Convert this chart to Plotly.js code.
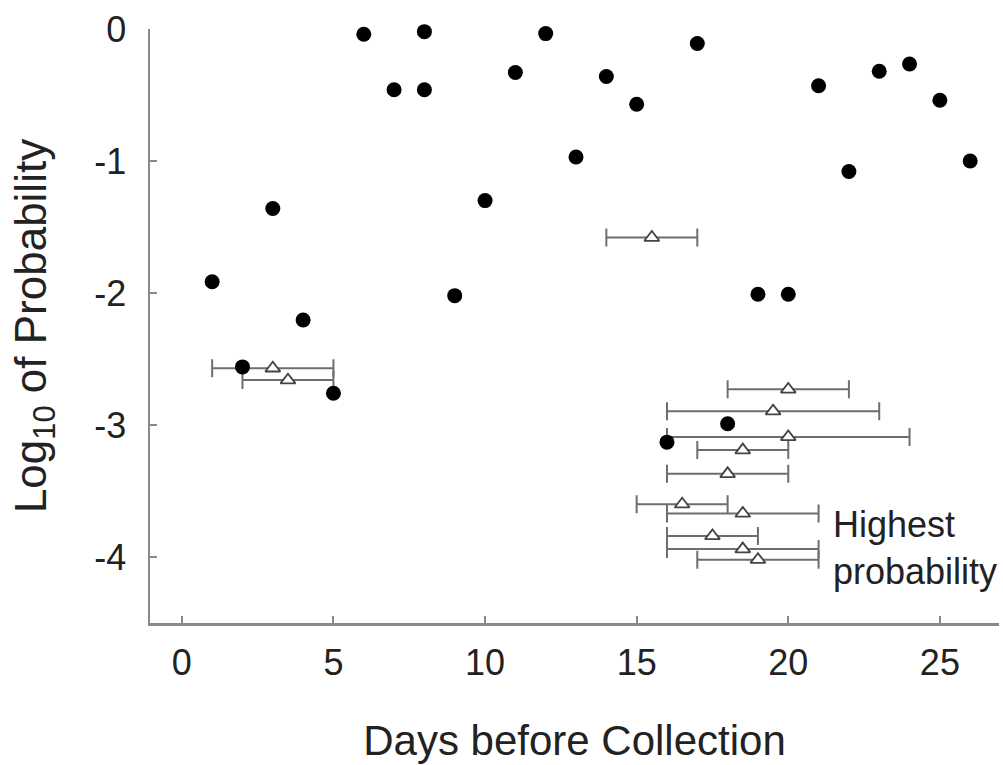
<!DOCTYPE html>
<html>
<head>
<meta charset="utf-8">
<script src="https://cdn.plot.ly/plotly-3.0.1.min.js"></script>
<style>html,body{margin:0;padding:0;background:#fff;}#chart{width:1003px;height:765px;}</style>
</head>
<body>
<div id="chart"></div>
<script>
// Black dots: observed log10 probabilities
var dotDays = [1, 2, 3, 4, 5, 6, 7, 8, 8, 9, 10, 11, 12, 13, 14, 15, 16, 17, 18, 19, 20, 21, 22, 23, 24, 25, 26];
var dotLogP = [-1.915, -2.56, -1.36, -2.205, -2.76, -0.04, -0.46, -0.02, -0.46, -2.02, -1.30, -0.33, -0.035, -0.97, -0.36, -0.57, -3.13, -0.11, -2.99, -2.01, -2.01, -0.43, -1.08, -0.32, -0.265, -0.54, -1.0];

// Open triangles with horizontal ranges
var triDays = [3, 3.5, 15.5, 20, 19.5, 20, 18.5, 18, 16.5, 18.5, 17.5, 18.5, 19];
var triLogP = [-2.57, -2.66, -1.58, -2.73, -2.895, -3.09, -3.19, -3.37, -3.6, -3.67, -3.84, -3.94, -4.02];
var triLow  = [1, 2, 14, 18, 16, 16, 17, 16, 15, 16, 16, 16, 17];
var triHigh = [5, 5, 17, 22, 23, 24, 20, 20, 18, 21, 19, 21, 21];

var xTicks = [0, 5, 10, 15, 20, 25];
var yTicks = [0, -1, -2, -3, -4];

var errPlus = triHigh.map(function (h, i) { return h - triDays[i]; });
var errMinus = triLow.map(function (l, i) { return triDays[i] - l; });

var FONT = 'Liberation Sans, Arial, sans-serif';
var AXC = '#8a8a8a';

var traces = [
  {
    type: 'scatter', mode: 'markers',
    x: triDays, y: triLogP,
    marker: {symbol: 'triangle-up', size: 13, color: '#ffffff', line: {color: '#444444', width: 1.8}},
    error_x: {type: 'data', symmetric: false, array: errPlus, arrayminus: errMinus,
              color: '#6e6e6e', thickness: 2, width: 9},
    cliponaxis: false, showlegend: false, hoverinfo: 'x+y'
  },
  {
    type: 'scatter', mode: 'markers',
    x: dotDays, y: dotLogP,
    marker: {symbol: 'circle', size: 15, color: '#000000'},
    cliponaxis: false, showlegend: false, hoverinfo: 'x+y'
  }
];

var layout = {
  width: 1003, height: 765,
  margin: {l: 150, r: 4, t: 29, b: 142},
  paper_bgcolor: '#ffffff', plot_bgcolor: '#ffffff',
  font: {family: FONT, color: '#222222', size: 34},
  xaxis: {
    range: [-1.05, 26.95], tickvals: xTicks, ticktext: xTicks.map(String),
    showgrid: false, zeroline: false, showline: true, linecolor: AXC, linewidth: 2.5,
    ticks: 'inside', ticklen: 7, tickwidth: 2, tickcolor: AXC,
    ticklabelstandoff: 6,
    tickfont: {family: FONT, size: 36, color: '#222222'},
    title: {text: 'Days before Collection', font: {family: FONT, size: 42, color: '#222222'}, standoff: 44}
  },
  yaxis: {
    range: [-4.5, 0], tickvals: yTicks, ticktext: yTicks.map(String),
    showgrid: false, zeroline: false, showline: true, linecolor: AXC, linewidth: 2.5,
    ticks: 'inside', ticklen: 7, tickwidth: 2, tickcolor: AXC,
    ticklabelstandoff: 14,
    tickfont: {family: FONT, size: 36, color: '#222222'},
    title: {text: 'Log<sub>10</sub> of Probability', font: {family: FONT, size: 44, color: '#222222'}, standoff: 34}
  },
  annotations: [{
    x: 21.4, y: -3.93, xref: 'x', yref: 'y',
    text: 'Highest<br>probability', showarrow: false,
    xanchor: 'left', yanchor: 'middle', align: 'left',
    font: {family: FONT, size: 36, color: '#222222'}
  }]
};

Plotly.newPlot('chart', traces, layout, {displayModeBar: false, staticPlot: true});
</script>
</body>
</html>
